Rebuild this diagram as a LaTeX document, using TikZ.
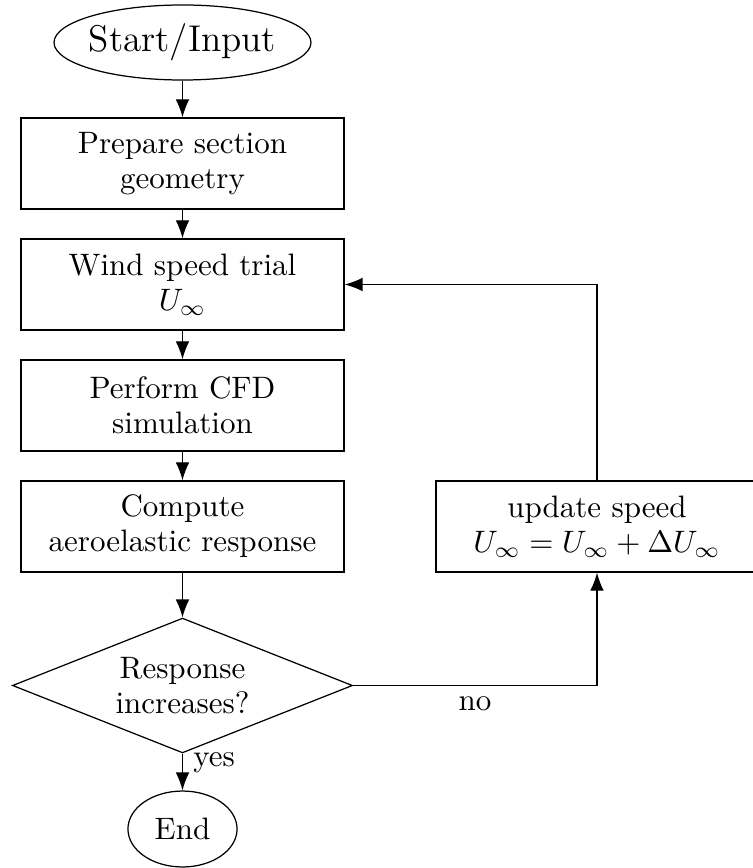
\documentclass[tikz,border=0pt]{standalone}
\usetikzlibrary{shapes.geometric,arrows.meta}
\begin{document}
\begin{tikzpicture}[x=0.3226pt,y=-0.3226pt,
  every node/.style={font=\fontsize{10pt}{11.3pt}\selectfont},
  proc/.style={draw, rectangle, align=center, minimum width=104.2pt, minimum height=29.4pt, inner sep=2pt},
  term/.style={draw, ellipse, align=center, inner sep=1pt},
  decis/.style={draw, diamond, align=center, shape aspect=2.5, inner sep=1pt, minimum width=109.7pt, minimum height=43.5pt},
  conn/.style={-{Latex[length=5.8pt,width=4.4pt]}, line width=0.4pt}]
\useasboundingbox (0,0) rectangle (752,868);
\node[term, minimum width=82.9pt, minimum height=24.2pt, inner xsep=-1pt, font=\large] (start) at (182.5,42.5) {Start/Input};
\node[proc] (prep) at (182.5,163.5) {Prepare section\\geometry};
\node[proc] (wind) at (182.5,284.5) {Wind speed trial\\$U_\infty$};
\node[proc] (cfd) at (182.5,405.5) {Perform CFD\\simulation};
\node[proc] (comp) at (182.5,526.5) {Compute\\aeroelastic response};
\node[decis] (dec) at (182.5,685.5) {Response\\increases?};
\node[term, minimum width=35.2pt, minimum height=24.5pt] (end) at (182.5,829) {End};
\node[proc, minimum width=103.9pt] (upd) at (597,526.5) {update speed\\$U_\infty = U_\infty + \Delta U_\infty$};
\draw[conn] (start) -- (prep);
\draw[conn] (prep) -- (wind);
\draw[conn] (wind) -- (cfd);
\draw[conn] (cfd) -- (comp);
\draw[conn] (comp) -- (dec);
\draw[conn] (dec) -- node[pos=0.25, anchor=west] {yes} (end);
\draw[conn] (dec.east) -| node[pos=0.25, below] {no} (upd.south);
\draw[conn] (upd.north) |- (wind.east);
\end{tikzpicture}
\end{document}
